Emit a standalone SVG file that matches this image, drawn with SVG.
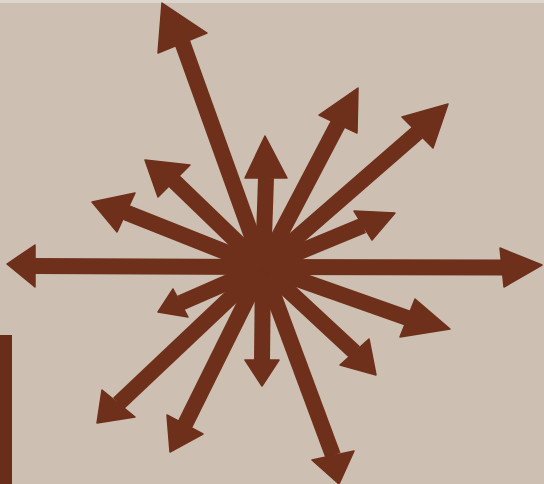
<svg xmlns="http://www.w3.org/2000/svg" width="544" height="484" viewBox="0 0 544 484">
<style>
.s{stroke:#6e301b;stroke-width:16;stroke-linecap:butt;fill:none}
.h{fill:#6e301b;stroke:#6e301b;stroke-width:1.5;stroke-linejoin:round}
</style>
<rect width="544" height="484" fill="#cdc0b2"/>
<rect x="0" y="0" width="544" height="3" fill="#ddd6cc"/>
<rect x="0" y="335" width="12" height="149" fill="#692d19"/>
<g id="star">
<circle cx="263" cy="267" r="33" fill="#6e301b"/>
<g id="a1"><line class="s" x1="263" y1="267" x2="182.5" y2="43"/><polygon class="h" points="162,3 158,53 207,33"/></g>
<g id="a2"><line class="s" x1="263" y1="267" x2="266" y2="178"/><polygon class="h" points="265,136 245,178 287,178"/></g>
<g id="a3"><line class="s" x1="263" y1="267" x2="338" y2="124"/><polygon class="h" points="358,88 319,115 357,133"/></g>
<g id="a4"><line class="s" x1="263" y1="267" x2="417.5" y2="132.5"/><polygon class="h" points="448,104 402,117 433,148"/></g>
<g id="a5"><line class="s" x1="263" y1="267" x2="363" y2="225.5"/><polygon class="h" points="395,213 354,211 372,240"/></g>
<g id="a6"><line class="s" x1="263" y1="267" x2="502" y2="267.5"/><polygon class="h" points="542,265 500,248 504,287"/></g>
<g id="a7"><line class="s" x1="263" y1="267" x2="407.5" y2="318"/><polygon class="h" points="450,329 415,299 400,337"/></g>
<g id="a8"><line class="s" x1="263" y1="267" x2="354.5" y2="352"/><polygon class="h" points="376,375 340,365 369,339"/></g>
<g id="a9"><line class="s" x1="263" y1="267" x2="333" y2="455.5"/><polygon class="h" points="339,484 312,460 354,451"/></g>
<g id="a10"><line class="s" x1="263" y1="267" x2="262" y2="360"/><polygon class="h" points="262,386 245,360 279,360"/></g>
<g id="a11"><line class="s" x1="263" y1="267" x2="185" y2="424.5"/><polygon class="h" points="170,452 167,415 203,434"/></g>
<g id="a12"><line class="s" x1="263" y1="267" x2="118.5" y2="403.5"/><polygon class="h" points="97,423 102,390 135,417"/></g>
<g id="a13"><line class="s" x1="263" y1="267" x2="180.5" y2="303"/><polygon class="h" points="158,312 173,289 188,317"/></g>
<g id="a14"><line class="s" x1="263" y1="267" x2="35" y2="266"/><polygon class="h" points="7,264 35,245 35,287"/></g>
<g id="a15"><line class="s" x1="263" y1="267" x2="126" y2="212.5"/><polygon class="h" points="92,202 135,193 117,232"/></g>
<g id="a16"><line class="s" x1="263" y1="267" x2="174" y2="181"/><polygon class="h" points="145,160 190,165 158,197"/></g>
</g>
</svg>
